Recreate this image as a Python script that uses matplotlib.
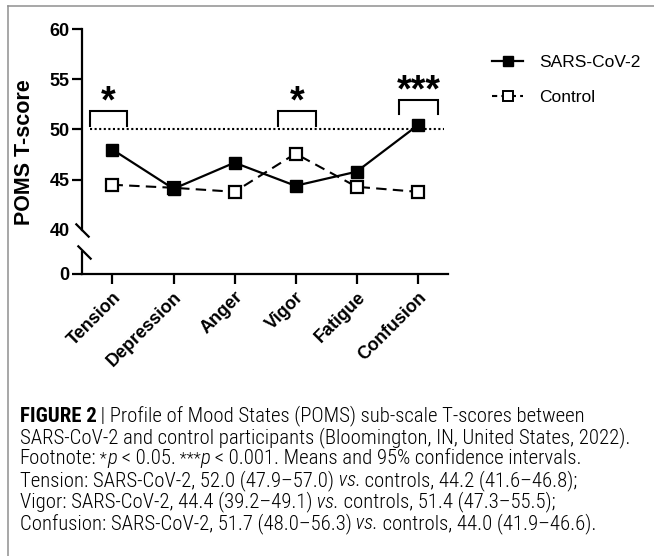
import matplotlib
matplotlib.use('Agg')
import numpy as np
import matplotlib.pyplot as plt
from matplotlib import font_manager as fm
from matplotlib.lines import Line2D

# ---------------- data ----------------
categories = ['Tension', 'Depression', 'Anger', 'Vigor', 'Fatigue', 'Confusion']
sars = [48.0, 44.1, 46.7, 44.4, 45.8, 50.4]
control = [44.5, 44.2, 43.8, 47.6, 44.3, 43.8]
series_names = ['SARS-CoV-2', 'Control']
ref_level = 50
yticks_top = [40, 45, 50, 55, 60]
yticks_bottom = [0]
sig_index = [0, 3, 5]
sig_labels = ['*', '*', '***']
bracket_top = [51.8, 51.8, 52.9]
bracket_foot = [50.3, 50.3, 51.5]
bracket_left = [-0.37, -0.28, -0.30]
bracket_right = [0.23, 0.33, 0.34]
axis_label = 'POMS T-score'

caption_lines = [
    [("FIGURE 2", 'bold', 'normal'), (" | Profile of Mood States (POMS) sub-scale T-scores between", 'normal', 'normal')],
    [("SARS-CoV-2 and control participants (Bloomington, IN, United States, 2022).", 'normal', 'normal')],
    [("Footnote:", 'normal', 'normal'), (" *", 'sup', 'normal'), ("p", 'normal', 'italic'),
     (" < 0.05.", 'normal', 'normal'), (" ***", 'sup', 'normal'), ("p", 'normal', 'italic'),
     (" < 0.001. Means and 95% confidence intervals.", 'normal', 'normal')],
    [("Tension: SARS-CoV-2, 52.0 (47.9\u201357.0)", 'normal', 'normal'), (" vs.", 'normal', 'italic'),
     (" controls, 44.2 (41.6\u201346.8);", 'normal', 'normal')],
    [("Vigor: SARS-CoV-2, 44.4 (39.2\u201349.1)", 'normal', 'normal'), (" vs.", 'normal', 'italic'),
     (" controls, 51.4 (47.3\u201355.5);", 'normal', 'normal')],
    [("Confusion: SARS-CoV-2, 51.7 (48.0\u201356.3)", 'normal', 'normal'), (" vs.", 'normal', 'italic'),
     (" controls, 44.0 (41.9\u201346.6).", 'normal', 'normal')],
]


def pick(names):
    for n in names:
        try:
            fm.findfont(fm.FontProperties(family=n), fallback_to_default=False)
            return n
        except Exception:
            pass
    return 'DejaVu Sans'


MAIN = pick(['Liberation Sans', 'Arial', 'DejaVu Sans'])
NARROW = pick(['Liberation Sans Narrow', 'Roboto Condensed', 'Roboto', 'Liberation Sans'])
plt.rcParams['font.family'] = [MAIN, 'DejaVu Sans']

W, H = 654, 556
fig = plt.figure(figsize=(W / 100, H / 100), dpi=100)


def fx(px):
    return px / W


def fy(py):
    return 1 - py / H


# axes geometry (pixels)
L, R = 82, 448
top_ax = fig.add_axes([fx(L), fy(230), fx(R - L), (230 - 29) / H])
bot_ax = fig.add_axes([fx(L), fy(274), fx(R - L), (274 - 252) / H])
for a in (top_ax, bot_ax):
    a.set_facecolor('none')
    a.set_xlim(-0.5, len(categories) - 0.5)
    for s in ('top', 'right'):
        a.spines[s].set_visible(False)
    for s in ('left', 'bottom'):
        a.spines[s].set_linewidth(1.6)
    a.tick_params(width=1.6, length=7.5, labelsize=13, pad=1.5)
top_ax.set_zorder(3)

x = np.arange(len(categories))

# top axes
top_ax.spines['bottom'].set_visible(False)
top_ax.tick_params(axis='x', bottom=False, labelbottom=False)
top_ax.set_ylim(yticks_top[0], yticks_top[-1])
top_ax.set_yticks(yticks_top)
top_ax.set_yticklabels([str(v) for v in yticks_top], fontweight='bold')
top_ax.yaxis.get_major_ticks()[0].tick1line.set_visible(False)

top_ax.axhline(ref_level, xmin=0.022, xmax=0.99, color='k', lw=1.5,
               linestyle=(0, (1, 1.2)), zorder=1)

top_ax.plot(x, control, color='k', lw=1.5, dashes=(5, 3), marker='s', ms=9,
            mfc='white', mec='k', mew=1.6, zorder=2, clip_on=False)
top_ax.plot(x, sars, color='k', lw=1.6, marker='s', ms=9, mfc='k', mec='k',
            zorder=3, clip_on=False)

for i, lab, t, f, l, r in zip(sig_index, sig_labels, bracket_top, bracket_foot,
                              bracket_left, bracket_right):
    xs = [x[i] + l, x[i] + l, x[i] + r, x[i] + r]
    ys = [f, t, t, f]
    top_ax.plot(xs, ys, color='k', lw=1.5, solid_joinstyle='miter', clip_on=False)
    top_ax.text(x[i] + (l + r) / 2, t - 0.15, lab, ha='center', va='baseline',
                fontsize=27, fontweight='bold', clip_on=False)

# bottom axes
bot_ax.set_ylim(0, 1)
bot_ax.set_yticks(yticks_bottom)
bot_ax.set_yticklabels([str(v) for v in yticks_bottom], fontweight='bold')
bot_ax.set_xticks(x)
bot_ax.set_xticklabels(categories, rotation=45, ha='right', va='top',
                       rotation_mode='anchor', fontweight='bold', fontsize=13)
bot_ax.tick_params(axis='x', pad=3)

# break marks
slash = [(-1, 1), (1, -1)]
top_ax.plot([0], [0], transform=top_ax.transAxes, marker=slash, ms=10, mew=1.6,
            color='k', clip_on=False, linestyle='none')
bot_ax.plot([0.005], [1], transform=bot_ax.transAxes, marker=slash, ms=10, mew=1.6,
            color='k', clip_on=False, linestyle='none')

# y label
fig.text(fx(25), fy(152), axis_label, rotation=90, ha='center', va='center',
         fontsize=15.5, fontweight='bold')

# legend
handles = [
    Line2D([], [], color='k', lw=1.6, marker='s', ms=7, mfc='k', mec='k'),
    Line2D([], [], color='k', lw=1.5, dashes=(2.5, 2), marker='s', ms=7,
           mfc='white', mec='k', mew=1.4),
]
fig.legend(handles, series_names, loc='upper left',
           bbox_to_anchor=(fx(492), fy(55)), frameon=False, borderpad=0,
           borderaxespad=0, handlelength=1.8, handletextpad=0.9,
           labelspacing=1.15, fontsize=12.5)

# frame lines
grey = '#8f8f8f'
fig.add_artist(Line2D([fx(8), fx(8)], [0, fy(6)], transform=fig.transFigure,
                      color=grey, lw=1.1))
fig.add_artist(Line2D([fx(8), 1], [fy(6), fy(6)], transform=fig.transFigure,
                      color=grey, lw=1.1))

# caption
renderer = fig.canvas.get_renderer()
REG_W = 'light'
probe = fig.text(0, 0, ''.join(s[0] for s in caption_lines[1]), fontsize=10,
                 family=NARROW, fontweight=REG_W)
wprobe = probe.get_window_extent(renderer).width
probe.remove()
cap_size = 10 * 609 / wprobe

baselines = [421.5, 443, 464.5, 486, 507.5, 529]
for segs, base in zip(caption_lines, baselines):
    xpos = 19.5
    for txt, weight, style in segs:
        size = cap_size
        w = REG_W if weight == 'normal' else weight
        if weight == 'sup':
            size = cap_size * 0.8
            w = REG_W
        t = fig.text(fx(xpos), fy(base), txt, fontsize=size, family=NARROW,
                     fontweight=w, fontstyle=style, ha='left', va='baseline')
        xpos += t.get_window_extent(renderer).width

fig.savefig('out.png', dpi=100)
